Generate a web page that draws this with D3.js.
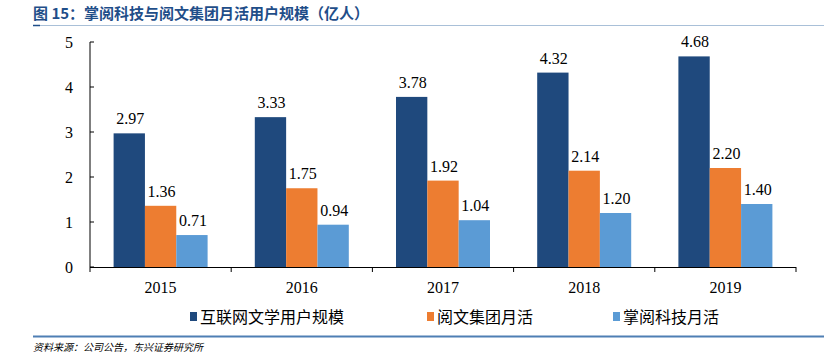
<!DOCTYPE html>
<html><head><meta charset="utf-8">
<script src="https://cdn.jsdelivr.net/npm/d3@7"></script>
<style>body{margin:0;background:#fff}svg{display:block}</style>
</head><body>
<script>
const categories = ["2015","2016","2017","2018","2019"];
const seriesNames = ["互联网文学用户规模","阅文集团月活","掌阅科技月活"];
const internetUsers = [2.97,3.33,3.78,4.32,4.68];
const yuewenMAU = [1.36,1.75,1.92,2.14,2.20];
const zhangyueMAU = [0.71,0.94,1.04,1.20,1.40];
const yTicks = [0,1,2,3,4,5];
const colors = ["#1f497d","#ed7d31","#5b9bd5"];
const series = [internetUsers, yuewenMAU, zhangyueMAU];

const W=824,H=357;
const svg=d3.select("body").append("svg").attr("width",W).attr("height",H);
const serif="'Liberation Serif','DejaVu Serif',serif";
const cjk="'Noto Sans CJK SC',sans-serif";

// title
svg.append("text").attr("x",33).attr("y",19).attr("font-family",cjk).attr("font-weight","bold")
  .attr("font-size",15).attr("fill","#1f4e89").text("图 15：掌阅科技与阅文集团月活用户规模（亿人）");
svg.append("line").attr("x1",33).attr("x2",W).attr("y1",25.5).attr("y2",25.5).attr("stroke","#a9c0d8").attr("stroke-width",1);
svg.append("line").attr("x1",33).attr("x2",40).attr("y1",25.5).attr("y2",25.5).attr("stroke","#1f4e89").attr("stroke-width",1.5);

const x=d3.scaleBand().domain(categories).range([90,796]);
const y=d3.scaleLinear().domain([0,5]).range([267,42]);
const inner=d3.scaleBand().domain(d3.range(3)).range([0,94]);
const off=(x.bandwidth()-94)/2;

// y axis
const gy=svg.append("g").attr("transform","translate(90,0)");
gy.append("line").attr("y1",y(0)).attr("y2",y(5)).attr("stroke","#000");
yTicks.forEach(t=>{
  gy.append("line").attr("x1",0).attr("x2",4).attr("y1",y(t)).attr("y2",y(t)).attr("stroke","#000");
  gy.append("text").attr("x",-17).attr("y",y(t)).attr("dy","0.35em").attr("text-anchor","end")
    .attr("font-family",serif).attr("font-size",16).text(t);
});

// bars
series.forEach((s,i)=>{
  svg.append("g").selectAll("rect").data(s).join("rect")
    .attr("x",(d,j)=>x(categories[j])+off+inner(i))
    .attr("width",inner.bandwidth())
    .attr("y",d=>y(d)).attr("height",d=>y(0)-y(d))
    .attr("fill",colors[i]);
  svg.append("g").selectAll("text").data(s).join("text")
    .attr("x",(d,j)=>x(categories[j])+off+inner(i)+inner.bandwidth()/2+1)
    .attr("y",d=>y(d)-9).attr("text-anchor","middle")
    .attr("font-family",serif).attr("font-size",16).attr("fill","#000")
    .text(d=>d.toFixed(2));
});

// x axis
const gx=svg.append("g");
gx.append("line").attr("x1",90).attr("x2",796).attr("y1",267.5).attr("y2",267.5).attr("stroke","#000");
const bounds=categories.map(c=>x(c)).concat([x.range()[1]]);
bounds.forEach(b=>gx.append("line").attr("x1",b).attr("x2",b).attr("y1",267).attr("y2",272).attr("stroke","#000"));
categories.forEach(c=>gx.append("text").attr("x",x(c)+x.bandwidth()/2).attr("y",293)
  .attr("text-anchor","middle").attr("font-family",serif).attr("font-size",16).text(c));

// legend
const lx=[190,427,613];
seriesNames.forEach((n,i)=>{
  svg.append("rect").attr("x",lx[i]).attr("y",312).attr("width",7).attr("height",9).attr("fill",colors[i]);
  svg.append("text").attr("x",lx[i]+10).attr("y",323).attr("font-family",cjk).attr("font-size",16).text(n);
});

svg.append("line").attr("x1",33).attr("x2",W).attr("y1",336.5).attr("y2",336.5).attr("stroke","#4f7fb4").attr("stroke-width",2);
svg.append("text").attr("x",33).attr("y",351).attr("font-family",cjk).attr("font-style","italic")
  .attr("font-size",10).text("资料来源：公司公告，东兴证券研究所");
</script>
</body></html>
